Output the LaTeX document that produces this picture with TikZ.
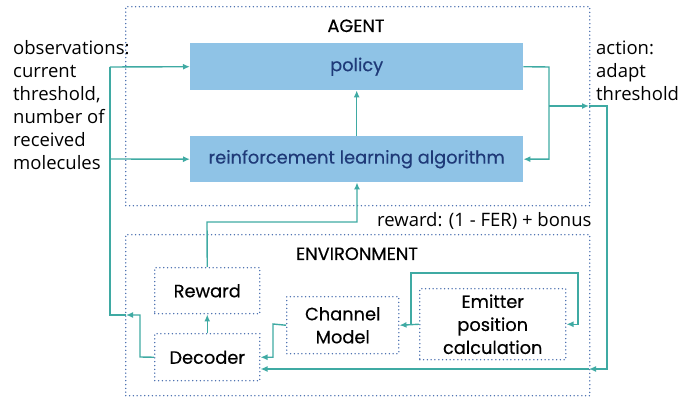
\documentclass[tikz,border=0pt]{standalone}
\usepackage{fontspec}
\setmainfont{Open Sans}
\newfontfamily\boxfont[FakeBold=0.4]{Poppins}
\usetikzlibrary{arrows.meta}
\definecolor{teal1}{HTML}{3FAAA3}
\definecolor{boxblue}{HTML}{8FC3E6}
\definecolor{navy1}{HTML}{1F3A78}
\definecolor{dotblue}{HTML}{3F66AA}
\tikzset{
  dotbox/.style={draw=dotblue, line width=1.5pt, dash pattern=on 0pt off 3.8pt, line cap=round, inner sep=0pt},
  bluebox/.style={fill=boxblue, inner sep=0pt, text=navy1, font=\boxfont\fontsize{17.8}{20}\selectfont},
  envbox/.style={dotbox, align=center, font=\boxfont\fontsize{17.8}{23}\selectfont},
  conn/.style={draw=teal1, line width=1.4pt},
  arr/.style={conn, -{Latex[length=7pt,width=6pt]}},
  plain/.style={inner sep=0pt, align=left, font=\fontsize{18.5}{23}\selectfont},
  title/.style={inner sep=0pt, font=\boxfont\fontsize{17.8}{20}\selectfont}
}
\begin{document}
\begin{tikzpicture}[x=1pt,y=-1pt]
\useasboundingbox (0,0) rectangle (697,403);
% containers
\node[dotbox, anchor=north west, minimum width=464pt, minimum height=199pt] (agent) at (125,6) {};
\node[dotbox, anchor=north west, minimum width=464pt, minimum height=161pt] (env) at (125,234) {};
% agent boxes
\node[bluebox, anchor=north west, minimum width=333pt, minimum height=47pt] (policy) at (190,43) {};
\node[bluebox] at (policy.center) {policy};
\node[bluebox, anchor=north west, minimum width=333pt, minimum height=46pt] (rl) at (190,136) {};
\node[bluebox] at (rl.center) {reinforcement learning algorithm};
% env boxes
\node[envbox, anchor=north west, minimum width=105pt, minimum height=46pt] (reward) at (154,267) {Reward};
\node[envbox, anchor=north west, minimum width=105pt, minimum height=47pt] (decoder) at (154,333) {Decoder};
\node[envbox, anchor=north west, minimum width=112pt, minimum height=57pt] (channel) at (286,296) {Channel\\Model};
\node[envbox, anchor=north west, minimum width=146pt, minimum height=71pt] (emitter) at (419,288) {Emitter\\position\\calculation};
% titles
\node[title, anchor=base] (agentt) at (356,32) {AGENT};
\node[title, anchor=base] (envt) at (357,260) {ENVIRONMENT};
\node[plain, anchor=base west] (rewt) at (377,227) {reward: (1 - FER) + bonus};
\node[plain, anchor=base west] (obs) at (13,170) {observations:\\current\\threshold,\\number of\\received\\molecules};
\node[plain, anchor=base west] (act) at (596,101) {action:\\adapt\\threshold};
% coordinates
\coordinate (oA) at (110,67);
\coordinate (oB) at (110,159);
\coordinate (oC) at (110,315);
\coordinate (oD) at (126,315);
\coordinate (aA) at (549,67);
\coordinate (aB) at (549,106);
\coordinate (aC) at (589,106);
\coordinate (aD) at (607,106);
\coordinate (aE) at (607,369);
\coordinate (aF) at (589,369);
\coordinate (rA) at (207,222);
\coordinate (rB) at (357,222);
\coordinate (eA) at (411,324);
\coordinate (eB) at (578,273);
\coordinate (cA) at (273,324);
% connectors
\draw[arr] (rl.north -| policy.south) -- (policy.south);
\draw[arr] (policy.east) -- (aA) -- (aA |- rl.east) -- (rl.east);
\draw[arr] (aB) -- (aC);
\draw[arr] (aC) -- (aD) -- (aE) -- (aF);
\draw[arr] (aF) -- (decoder.east |- aF);
\draw[arr] (decoder.west) -- (140,357) -- (140,315) -- (oD);
\draw[conn] (oD) -- (oC) -- (oA);
\draw[arr] (oA) -- (policy.west);
\draw[arr] (oB) -- (rl.west);
\draw[arr] (decoder.north) -- (reward.south);
\draw[arr] (reward.north) -- (rA) -- (rB) -- (rB |- rl.south);
\draw[arr] (channel.west) -- (cA) -- (cA |- decoder.east) -- (decoder.east);
\draw[arr] (emitter.west) -- (channel.east);
\draw[arr] (eA) -- (eA |- eB) -- (eB) -- (eB |- emitter.east) -- (emitter.east);
\end{tikzpicture}
\end{document}
